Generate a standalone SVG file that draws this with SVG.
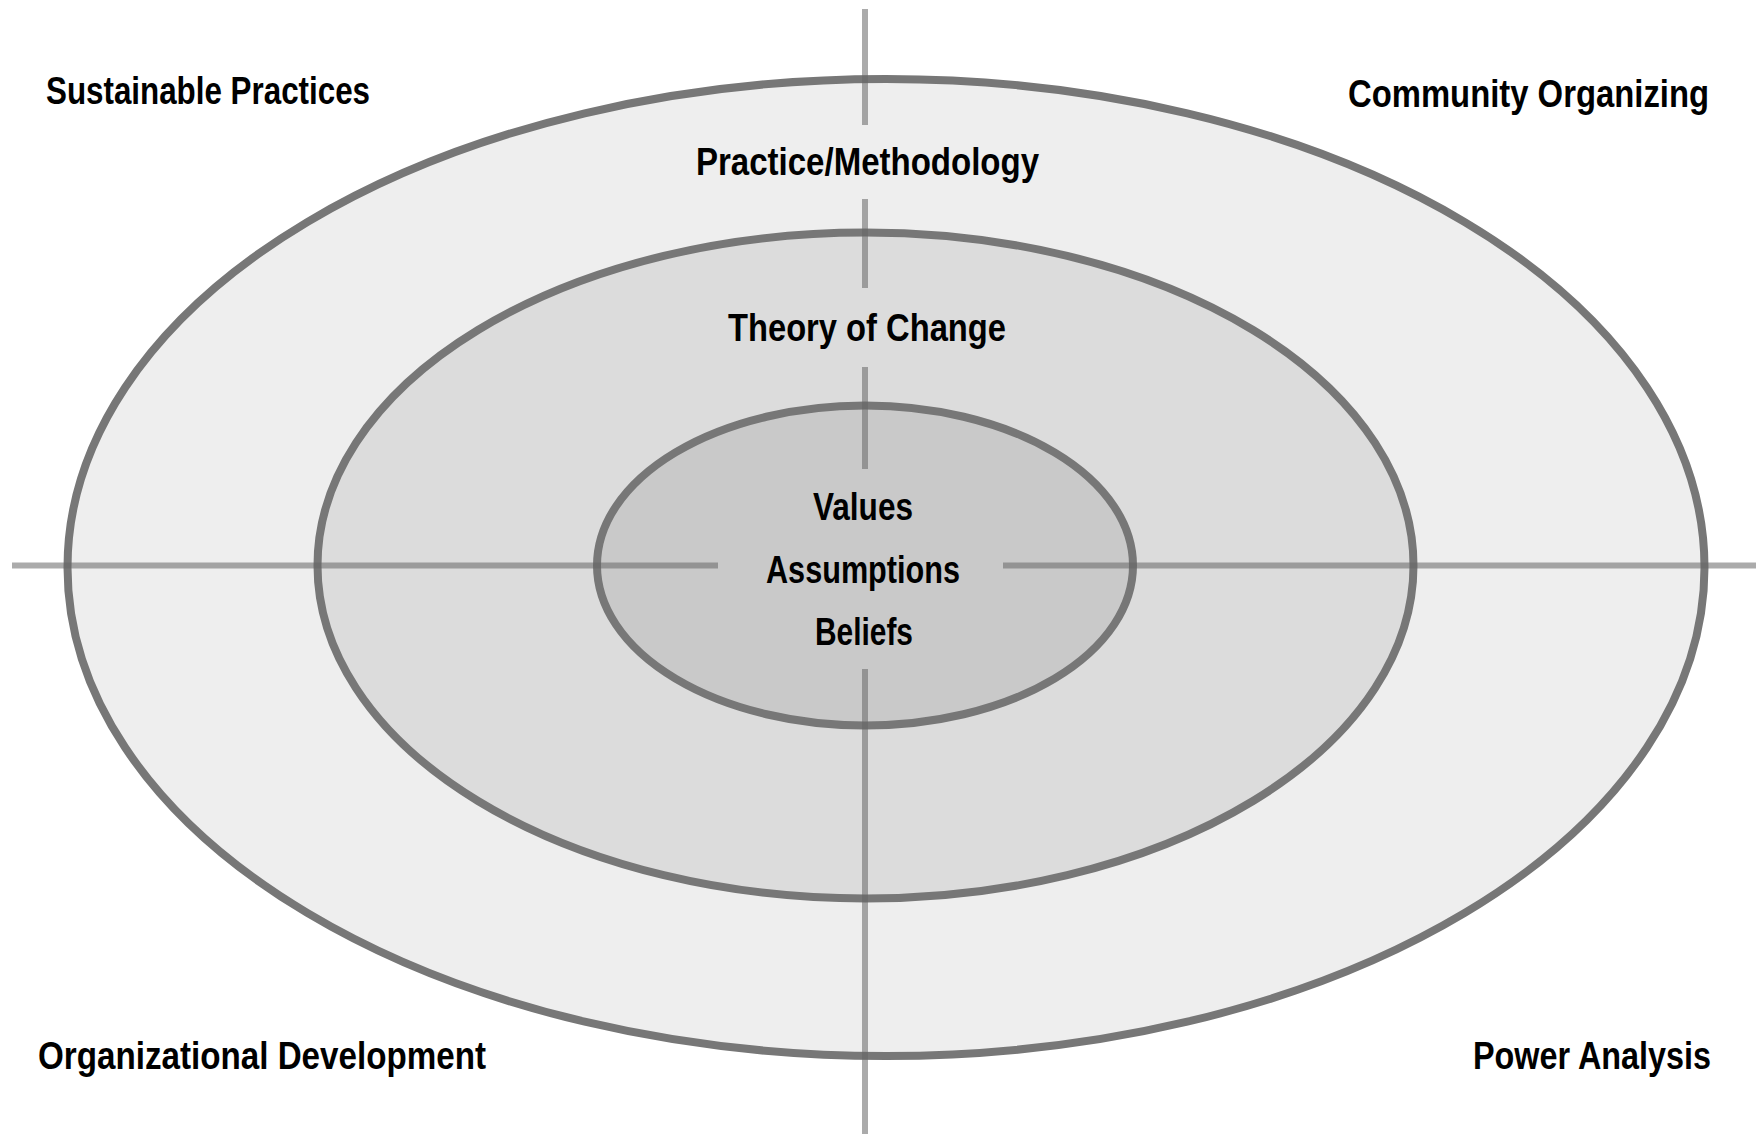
<svg xmlns="http://www.w3.org/2000/svg" width="1756" height="1136" viewBox="0 0 1756 1136">
<style>
.ring{stroke:#777777;stroke-width:8}
.axis{stroke:#666666;stroke-opacity:0.55;stroke-width:6;fill:none}
.lbl{font-family:"Liberation Sans Narrow","Liberation Sans",Arial,sans-serif;font-weight:bold;font-size:38px;fill:#000000}
</style>
<rect width="1756" height="1136" fill="#ffffff"/>
<g id="ring-outer">
<ellipse class="ring" cx="886" cy="567.5" rx="818.5" ry="488.5" fill="#eeeeee"/>
</g>
<g id="ring-middle">
<ellipse class="ring" cx="865.5" cy="565.5" rx="548" ry="333" fill="#dcdcdc"/>
</g>
<g id="ring-inner">
<ellipse class="ring" cx="865" cy="565.5" rx="268" ry="160" fill="#c9c9c9"/>
</g>
<g id="connectors">
<line class="axis" x1="865" y1="9" x2="865" y2="125"/>
<line class="axis" x1="865" y1="199" x2="865" y2="288"/>
<line class="axis" x1="865" y1="367" x2="865" y2="469"/>
<line class="axis" x1="865" y1="669" x2="865" y2="1134"/>
<line class="axis" x1="12" y1="565.5" x2="718" y2="565.5"/>
<line class="axis" x1="1003" y1="565.5" x2="1756" y2="565.5"/>
</g>
<g id="label-practice">
<text class="lbl" x="696" y="175" textLength="343" lengthAdjust="spacingAndGlyphs">Practice/Methodology</text>
</g>
<g id="label-theory">
<text class="lbl" x="728" y="341" textLength="278" lengthAdjust="spacingAndGlyphs">Theory of Change</text>
</g>
<g id="label-core">
<text class="lbl" x="813" y="520" textLength="100" lengthAdjust="spacingAndGlyphs">Values</text>
<text class="lbl" x="766" y="583" textLength="194" lengthAdjust="spacingAndGlyphs">Assumptions</text>
<text class="lbl" x="815" y="645" textLength="98" lengthAdjust="spacingAndGlyphs">Beliefs</text>
</g>
<g id="label-sustainable">
<text class="lbl" x="46" y="104" textLength="324" lengthAdjust="spacingAndGlyphs">Sustainable Practices</text>
</g>
<g id="label-community">
<text class="lbl" x="1348" y="107" textLength="361" lengthAdjust="spacingAndGlyphs">Community Organizing</text>
</g>
<g id="label-orgdev">
<text class="lbl" x="38" y="1069" textLength="448" lengthAdjust="spacingAndGlyphs">Organizational Development</text>
</g>
<g id="label-power">
<text class="lbl" x="1473" y="1069" textLength="238" lengthAdjust="spacingAndGlyphs">Power Analysis</text>
</g>
</svg>
